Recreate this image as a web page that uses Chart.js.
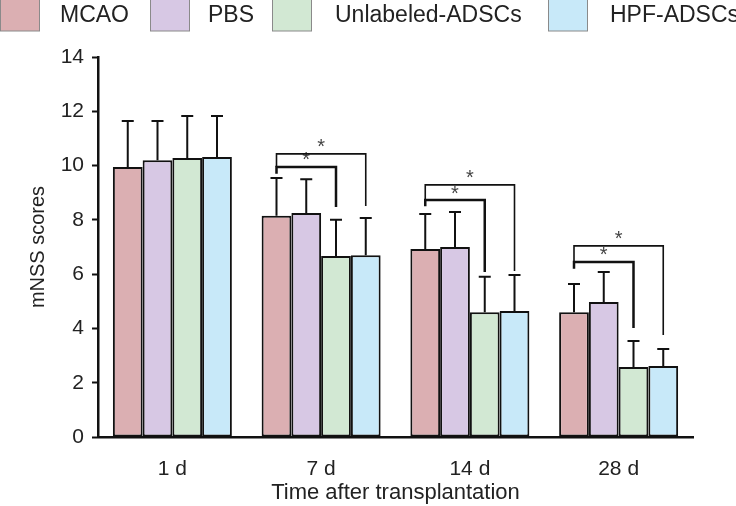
<!DOCTYPE html>
<html>
<head>
<meta charset="utf-8">
<script src="https://cdn.jsdelivr.net/npm/chart.js@4"></script>
<style>
  html, body { margin: 0; padding: 0; background: #fff; }
  #wrap { position: relative; width: 736px; height: 506px; }
</style>
</head>
<body>
<div id="wrap"><canvas id="chart" width="736" height="506"></canvas></div>
<script>
const timepoints = ['1 d', '7 d', '14 d', '28 d'];
const groupNames = ['MCAO', 'PBS', 'Unlabeled-ADSCs', 'HPF-ADSCs'];
const groupColors = ['#dbafb2', '#d7c8e4', '#d2e8d3', '#c8e9f9'];

const mcaoScores = [9.95, 8.15, 6.93, 4.6];
const pbsScores = [10.2, 8.25, 7.0, 4.97];
const unlabeledScores = [10.28, 6.67, 4.6, 2.58];
const hpfScores = [10.32, 6.7, 4.64, 2.62];

const mcaoSD = [1.69, 1.39, 1.29, 1.04];
const pbsSD = [1.44, 1.25, 1.29, 1.11];
const unlabeledSD = [1.55, 1.33, 1.3, 0.96];
const hpfSD = [1.51, 1.37, 1.33, 0.62];

const yTicks = [0, 2, 4, 6, 8, 10, 12, 14];

// significance brackets: timepoint index, from group, to group, bar level, leg bottom, left leg bottom
const brackets = [
    { t: 1, from: 0, to: 2, level: 9.95, legEnd: 8.47, leftEnd: 9.7, w: 2.5 },
    { t: 1, from: 0, to: 3, level: 10.43, legEnd: 8.51, leftEnd: 9.95, w: 1.6 },
    { t: 2, from: 0, to: 2, level: 8.73, legEnd: 6.08, leftEnd: 8.5, w: 2.5 },
    { t: 2, from: 0, to: 3, level: 9.29, legEnd: 6.12, leftEnd: 8.73, w: 1.6 },
    { t: 3, from: 0, to: 2, level: 6.45, legEnd: 4.02, leftEnd: 6.2, w: 2.5 },
    { t: 3, from: 0, to: 3, level: 7.04, legEnd: 3.76, leftEnd: 6.45, w: 1.6 }
];

const scoreSets = [mcaoScores, pbsScores, unlabeledScores, hpfScores];
const sdSets = [mcaoSD, pbsSD, unlabeledSD, hpfSD];

const FONT = '"Liberation Sans", Arial, sans-serif';

const errorBars = {
    id: 'errorBars',
    afterDatasetsDraw(chart) {
        const ctx = chart.ctx;
        const y = chart.scales.y;
        ctx.save();
        ctx.strokeStyle = '#111';
        ctx.lineWidth = 2;
        chart.data.datasets.forEach((ds, i) => {
            const meta = chart.getDatasetMeta(i);
            meta.data.forEach((bar, j) => {
                const top = y.getPixelForValue(ds.data[j] + sdSets[i][j]);
                ctx.beginPath();
                ctx.moveTo(bar.x, bar.y);
                ctx.lineTo(bar.x, top);
                ctx.moveTo(bar.x - 6, top);
                ctx.lineTo(bar.x + 6, top);
                ctx.stroke();
            });
        });
        ctx.restore();
    }
};

const sigBrackets = {
    id: 'sigBrackets',
    afterDatasetsDraw(chart) {
        const ctx = chart.ctx;
        const y = chart.scales.y;
        ctx.save();
        ctx.strokeStyle = '#111';
        brackets.forEach(b => {
            const x1 = chart.getDatasetMeta(b.from).data[b.t].x;
            const x2 = chart.getDatasetMeta(b.to).data[b.t].x;
            const yl = y.getPixelForValue(b.level);
            ctx.lineWidth = b.w;
            ctx.beginPath();
            ctx.moveTo(x1, y.getPixelForValue(b.leftEnd));
            ctx.lineTo(x1, yl);
            ctx.lineTo(x2, yl);
            ctx.lineTo(x2, y.getPixelForValue(b.legEnd));
            ctx.stroke();
            ctx.fillStyle = '#444';
            ctx.font = '20px ' + FONT;
            ctx.textAlign = 'center';
            ctx.textBaseline = 'middle';
            ctx.fillText('*', (x1 + x2) / 2, yl - 6);
        });
        ctx.restore();
    }
};

const topLegend = {
    id: 'topLegend',
    afterDraw(chart) {
        const ctx = chart.ctx;
        const boxX = [0, 150, 272, 548];
        const textX = [60, 208, 335, 610];
        ctx.save();
        ctx.font = '23px ' + FONT;
        ctx.textBaseline = 'middle';
        ctx.textAlign = 'left';
        groupNames.forEach((name, i) => {
            ctx.fillStyle = groupColors[i];
            ctx.fillRect(boxX[i], -2, 40, 33);
            ctx.strokeStyle = '#8a8a8a';
            ctx.lineWidth = 1;
            ctx.strokeRect(boxX[i] + 0.5, -2, 39, 33);
            ctx.fillStyle = '#222';
            ctx.fillText(name, textX[i], 16);
        });
        ctx.restore();
    }
};

new Chart(document.getElementById('chart'), {
    type: 'bar',
    data: {
        labels: timepoints,
        datasets: groupNames.map((name, i) => ({
            label: name,
            data: scoreSets[i],
            backgroundColor: groupColors[i],
            borderColor: '#111',
            borderWidth: 2,
            borderSkipped: false,
            barPercentage: 1,
            categoryPercentage: 0.8
        }))
    },
    options: {
        responsive: false,
        animation: false,
        layout: { padding: { top: 57, right: 43, left: 0, bottom: 0 } },
        plugins: {
            legend: { display: false },
            tooltip: { enabled: false }
        },
        scales: {
            x: {
                grid: { display: false, drawTicks: false },
                border: { color: '#111', width: 2.5 },
                ticks: { color: '#222', padding: 20, font: { family: FONT, size: 21 } },
                title: {
                    display: true,
                    text: 'Time after transplantation',
                    color: '#222',
                    font: { family: FONT, size: 22 },
                    padding: { top: 0, bottom: 0 }
                },
                afterFit(scale) { scale.height = 69; }
            },
            y: {
                min: 0,
                max: 14,
                afterBuildTicks(scale) {
                    scale.ticks = [];
                    for (let v = 0; v <= 14; v++) scale.ticks.push({ value: v });
                },
                grid: {
                    drawOnChartArea: false,
                    drawTicks: true,
                    tickLength: 6,
                    tickColor: '#111',
                    tickWidth: 2
                },
                border: { color: '#111', width: 2.5 },
                ticks: {
                    color: '#222',
                    padding: 8,
                    font: { family: FONT, size: 21 },
                    callback: v => yTicks.includes(v) ? String(v) : ''
                },
                title: {
                    display: true,
                    text: 'mNSS scores',
                    color: '#222',
                    font: { family: FONT, size: 20 },
                    padding: { top: 26, bottom: 0 }
                },
                afterFit(scale) { scale.width = 98; }
            }
        }
    },
    plugins: [errorBars, sigBrackets, topLegend]
});
</script>
</body>
</html>
